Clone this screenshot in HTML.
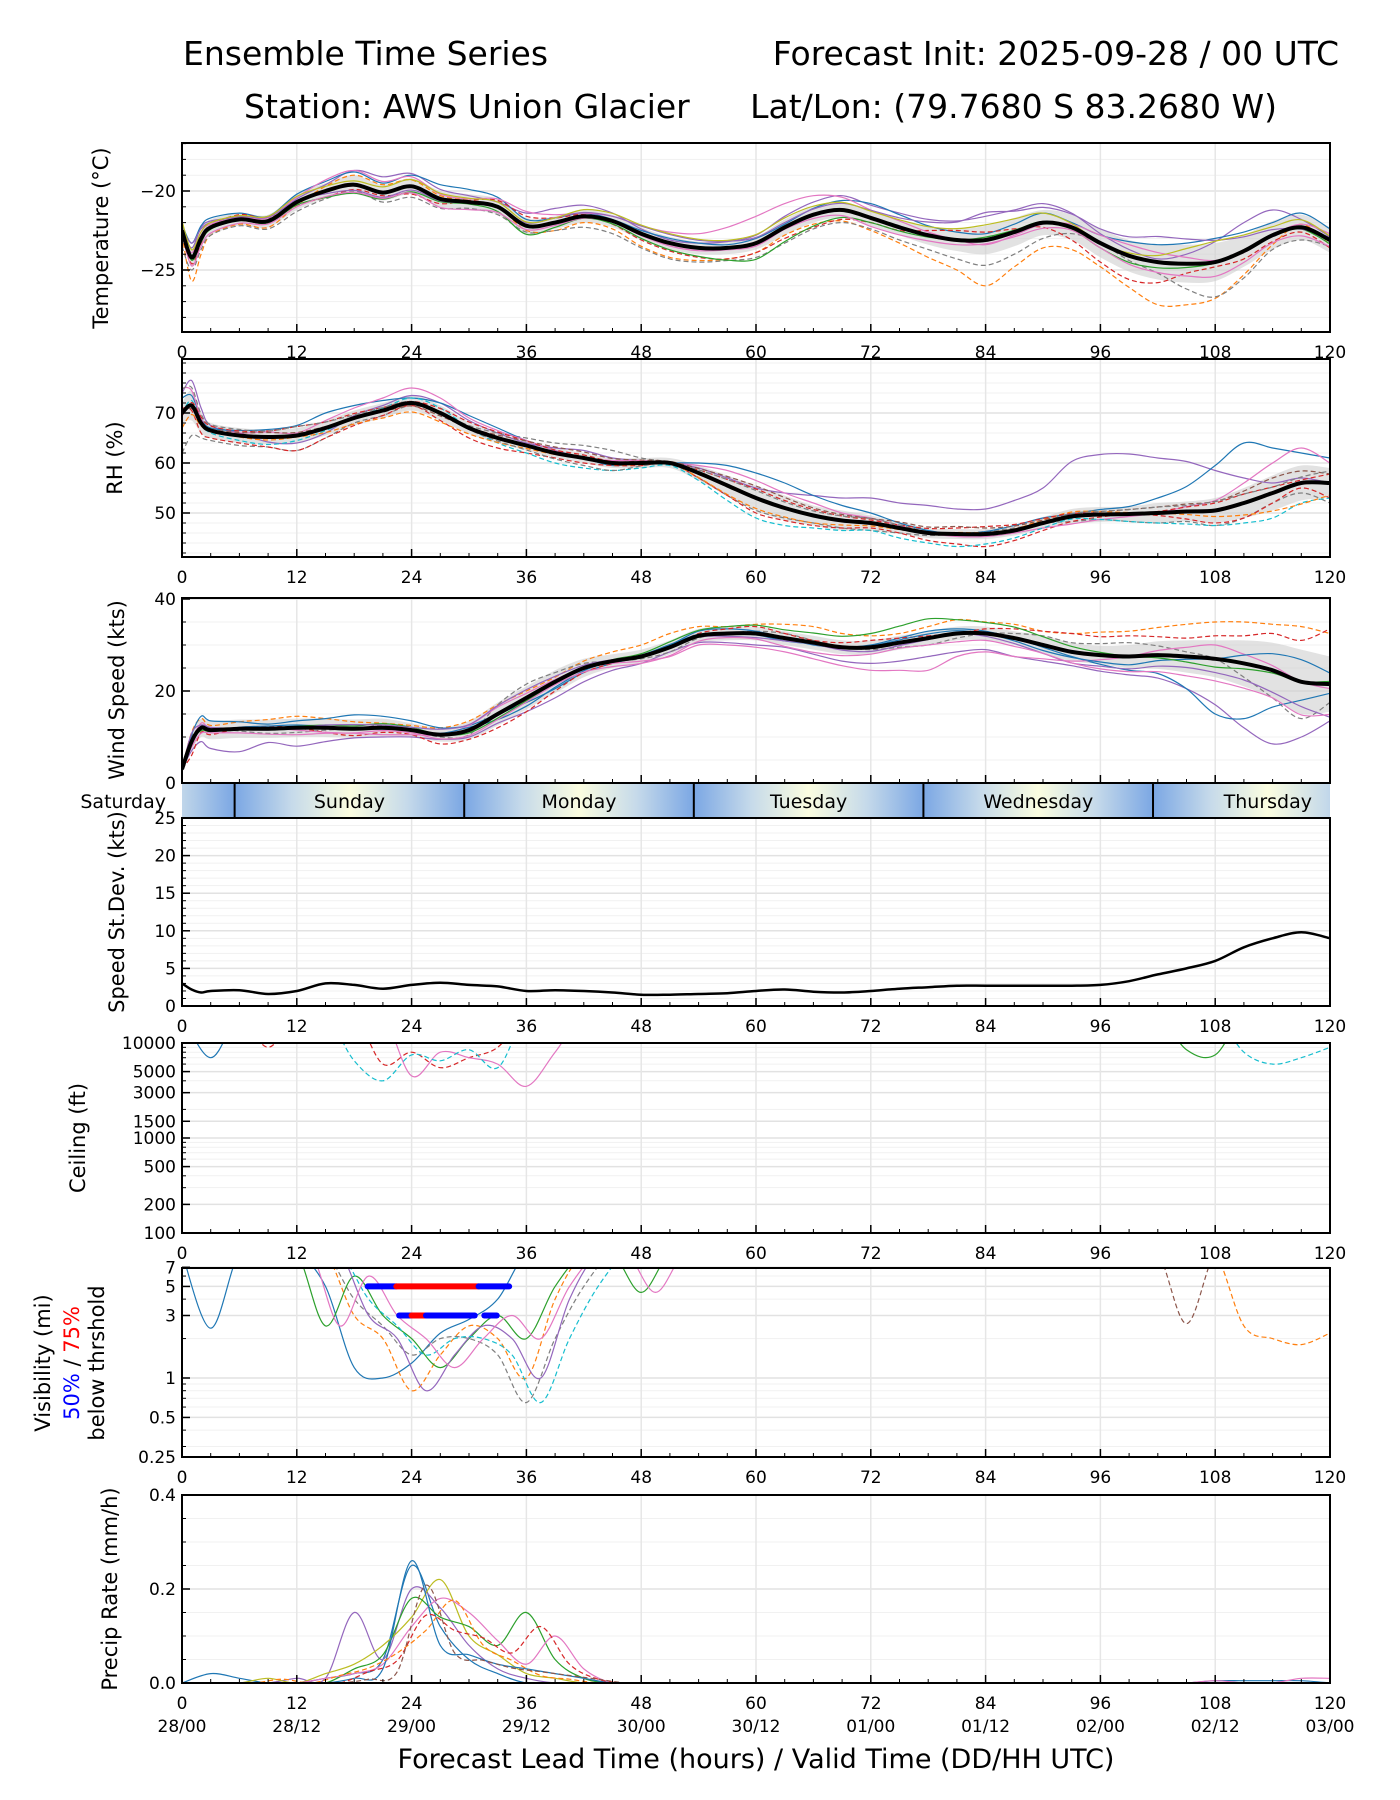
<!DOCTYPE html>
<html><head><meta charset="utf-8"><title>Ensemble Time Series</title>
<style>
html,body{margin:0;padding:0;background:#fff;}
svg{display:block;font-family:"DejaVu Sans","Liberation Sans",sans-serif;}
</style></head>
<body>
<svg id="chart" width="1400" height="1800" viewBox="0 0 1400 1800" xmlns="http://www.w3.org/2000/svg">
<defs>
<linearGradient id="dayGrad" x1="0" x2="1" y1="0" y2="0">
<stop offset="0" stop-color="#7ba7e4"/><stop offset="0.25" stop-color="#c6daea"/>
<stop offset="0.5" stop-color="#fbfde0"/><stop offset="0.75" stop-color="#c6daea"/>
<stop offset="1" stop-color="#7ba7e4"/></linearGradient>
</defs>
<text x="183" y="65" font-size="33">Ensemble Time Series</text>
<text x="1339" y="65" font-size="33" text-anchor="end">Forecast Init: 2025-09-28 / 00 UTC</text>
<text x="244" y="118" font-size="33">Station: AWS Union Glacier</text>
<text x="1277" y="118" font-size="33" text-anchor="end">Lat/Lon: (79.7680 S 83.2680 W)</text>
<g id="layer"></g>
</svg>
<script>
// ---------- data ----------
const T = [0,1,2,3,6,9,12,15,18,21,24,27,30,33,36,39,42,45,48,51,54,57,60,63,66,69,72,75,78,81,84,87,90,93,96,99,102,105,108,111,114,117,120];
const tempMean = [-22.5,-24.2,-23.0,-22.3,-21.8,-21.9,-20.7,-20.0,-19.6,-20.1,-19.7,-20.5,-20.7,-21.0,-22.2,-22.0,-21.6,-21.9,-22.7,-23.3,-23.6,-23.6,-23.3,-22.3,-21.5,-21.2,-21.7,-22.3,-22.8,-23.1,-23.1,-22.6,-22.0,-22.3,-23.3,-24.1,-24.5,-24.6,-24.5,-23.8,-22.8,-22.3,-23.1];
const tempSpread = [0.3,0.6,0.5,0.5,0.4,0.4,0.5,0.5,0.6,0.5,0.5,0.5,0.5,0.5,0.5,0.4,0.4,0.4,0.4,0.4,0.4,0.4,0.4,0.5,0.5,0.5,0.5,0.5,0.6,0.7,0.9,0.9,0.8,0.8,0.9,1.0,1.1,1.2,1.2,1.0,0.9,0.8,0.8];
const tempDev1 = [-.3,-1.5,-1.0,-.5,-.3,-.4,-.2,.3,.6,.5,.4,.2,.1,.0,-.3,-.5,-.4,-.5,-.8,-.9,-.8,-.7,-.6,-.5,-.6,-.7,-.8,-1.0,-1.4,-1.9,-2.9,-2.2,-1.6,-1.4,-1.5,-2.0,-2.7,-2.6,-2.3,-1.5,-.6,.2,-.3];
const tempDev2 = [.2,.6,.7,.4,.1,.0,.2,.4,.9,1.0,.8,.6,.4,.3,.8,.9,.7,.5,.3,.2,.3,.4,.5,.7,.8,.9,.8,.9,1.0,1.2,1.5,1.4,1.2,.9,.6,.4,.2,.6,1.3,1.8,1.6,.5,.2];
const tempDev3 = [-1.0,-.8,-.7,-.5,-.4,-.5,-.6,-.5,-.4,-.6,-.7,-.6,-.4,-.5,-.4,-.5,-.7,-.8,-.9,-1.0,-.9,-.8,-.9,-1.0,-.9,-.8,-.7,-.8,-.9,-1.2,-1.6,-1.4,-1.0,-.4,.0,-.3,-.7,-1.6,-2.2,-1.7,-.9,-.8,-.4];
const tempDev4 = [.4,.9,.8,.6,.4,.3,.5,.6,.8,.6,.7,.9,.8,.6,.4,.3,.2,.1,.2,.3,.3,.2,.3,.2,.4,.6,.9,.8,.6,.5,.4,.5,.6,.3,.5,.9,1.1,1.3,1.5,1.2,.8,.9,.7];
const tempDev5 = [.0,-.4,-.3,.1,.3,.2,-.2,-.4,-.3,-.2,-.5,-.3,.1,.4,.6,.3,.1,-.2,-.4,-.5,-.6,-.7,-.6,-.7,-.8,-.6,-.3,-.2,.3,.6,.5,.2,-.3,-.8,-1.2,-1.5,-1.3,-.6,-.3,-.5,-.4,-.3,-.5];
const tempDev6 = [.1,.3,.4,.2,.1,.2,.3,.7,.9,.7,.6,.3,.2,.5,.9,.5,.2,.3,.5,.7,.9,1.3,1.7,1.5,1.2,.8,.5,.4,.2,.0,-.3,-.2,-.1,.2,.5,.7,.6,.4,.1,-.1,.0,.2,.4];

const rhMean = [70,71.5,68,66.5,65.5,65.2,65.5,67,69,70.5,72,70,67,65,63.5,62,61,60,60,60,58,55.5,53,51,49.5,48.5,48,47,46,45.8,45.8,46.5,48,49.3,49.7,49.8,50,50.3,50.5,52,54,56,56];
const rhSpread = [2,3,2,1.5,1.5,1.5,1.5,1.5,1.5,1.5,1.5,1.5,1.2,1,1,1,1,1,1,1,1.5,2,2.5,2.5,2,2,1.5,1.2,1,1,1,1,1.2,1.5,1.5,1.5,2,2,2.5,3,3.5,3.5,3];
const rhDev1 = [4,5,3,1,.5,-1,-1.5,-1,.5,1,1.5,2,1.5,1,.5,1,1.5,1,.5,0,1,1.5,2,3,4,4.5,5,5,5.5,5,5,6,7,11,12,12,11,10,8,5,2,1,0];
const rhDev2 = [-8,-6,-3,-2,-2,-2,-3,-2,-1,-1,-.5,0,.5,1,1.5,2,2.5,2.5,1,0,-1,-2,-2.5,-2,-1.5,-1.5,-1.5,-1,-.5,0,.5,.5,0,-1,-1,-1.5,-2,-2,-3,-3,-2,-2,-4];
const rhDev3 = [3,2,1,.5,1,1.5,2,3,2.5,2,1,2,2.5,2,1,.5,0,-.5,0,0,2,4,5,5,4,3,2,1,.5,0,.5,1,1,.5,1,1.5,3,5,9,12,9,6,5];
const rhDev4 = [1,-1,-2,-1.5,-1.5,-2,-3,-2,-1.5,-1,-.5,-1.5,-2,-2,-1.5,-1,-1,-.5,-.5,0,-1,-2,-3,-2.5,-2,-1.5,-1,-1,-1.5,-2,-2.5,-2,-1.5,-1,-.5,0,-.5,-1.5,-2.5,-3,-2,-1,-3];
const rhDev5 = [5,3,1,0,.5,1,.5,1.5,2,2.5,3,3,2,1.5,1,.5,0,.5,.5,0,1.5,3,3.5,3,2.5,1.5,1,.5,0,-.5,-.5,-.5,-1,-1.5,-1,-.5,0,1,2,4,6,7,4];
const rhDev6 = [0,1,0,-.5,-1,-1.5,-1,-.5,0,.5,1,1,0,-1,-1.5,-2,-2,-1.5,-1,-.5,-1.5,-3,-4,-3.5,-2.5,-2,-1.5,-2,-2,-2.5,-2,-1.5,-1,-.5,-1,-1.5,-2,-2.5,-3,-4,-5,-4,-3];

const windMean = [3,9,12,11.5,11.8,11.8,12,12,11.8,12,11.5,10.5,11.5,15,18.5,22,25,26.5,27.5,29.5,32,32.5,32.5,31.5,30.5,29.5,29.5,30.5,31.5,32.5,32.5,31.5,30,28.5,27.8,27.5,27.8,27.5,27,26,24.5,22,21.5];
const windSpread = [1,2,2,2,2,2,2,2,2,2,1.5,1.5,2,2.5,2.5,2.5,2,1.5,1.5,1.5,1.5,1.5,1.5,1.5,1.5,1.5,1.5,1.5,1.5,1.5,1.5,1.5,2,2,2,2.5,3,3.5,4,5,6,7,6];
const windDev1 = [0,2,2,1,1.5,2,2.5,2,1.5,1,1,1.5,2,2,1.5,1,1.5,2,2.5,3,2,1.5,2,3,3.5,3,2.5,2,2.5,3,2.5,3,3,4,5,5.5,6,7,8,9,10,12,11];
const windDev2 = [0,-2,-3,-4,-5,-3,-4,-3,-2,-2,-1.5,-1,-1.5,-2,-3,-3.5,-3,-2,-1.5,-1,-1.5,-2,-2.5,-2,-2.5,-3,-3.5,-4,-4,-4,-3.5,-4,-3.5,-3,-3.5,-4,-5,-7,-10,-14,-16,-12,-8];
const windDev3 = [0,1,0,.5,-.5,-1,-1,-.5,0,.5,0,-.5,-1,2,3,2,1,0,-.5,-1,-.5,0,.5,1,.5,0,-.5,-1,-1.5,-1,0,1,2,2,2.5,3,2,1,0,-3,-6,-8,-4];
const windDev4 = [0,1.5,2.5,2,1.5,1,1.5,2,3,2.5,2,1.5,1,0,-1,-1.5,-1,-.5,0,.5,1,1,.5,0,-.5,0,.5,1,1.5,1,.5,0,-.5,-1,-2,-3,-4,-7,-12,-12,-8,-4,-2];
const windDev5 = [0,-3,-1,-1,0,.5,0,-1,-1.5,-1,-1,-2,-2,-3,-3,-2,-1,-.5,0,0,.5,1,1.5,1,.5,1,1.5,1,.5,0,1,2,3,4,4,4.5,4,4,5,6,8,9,12];
const windDev6 = [0,0,1,.5,0,0,-.5,-1,-1,-1.5,-1,0,1,1.5,1,.5,0,-.5,-1,-2,-2,-2.5,-3,-3,-3.5,-4,-5,-6,-7,-5,-4,-4,-3,-2,-1,0,1,2,3,2,1,0,-1];

const speedStd = [3,2.2,1.8,2.0,2.1,1.6,2.0,3.0,2.8,2.3,2.8,3.1,2.8,2.6,2.0,2.1,2.0,1.8,1.5,1.5,1.6,1.7,2.0,2.2,1.9,1.8,2.0,2.3,2.5,2.7,2.7,2.7,2.7,2.7,2.8,3.3,4.2,5.0,6.0,7.8,9.0,9.8,9.0];

const T3 = [0,3,6,9,12,15,18,21,24,27,30,33,36,39,42,45,48,51,54,57,60,63,66,69,72,75,78,81,84,87,90,93,96,99,102,105,108,111,114,117,120];
const ceil1 = [20000,7000,20000,20000,20000,20000,20000,20000,20000,20000,20000,20000,20000,20000,20000,20000,20000,20000,20000,20000,20000,20000,20000,20000,20000,20000,20000,20000,20000,20000,20000,20000,20000,20000,20000,20000,20000,20000,20000,20000,20000];
const ceil2 = [20000,20000,20000,9000,20000,20000,20000,6000,8000,5500,7000,9000,20000,20000,20000,20000,20000,20000,20000,20000,20000,20000,20000,20000,20000,20000,20000,20000,20000,20000,20000,20000,20000,20000,20000,20000,20000,20000,20000,20000,20000];
const ceil3 = [20000,20000,20000,20000,20000,20000,20000,20000,4500,8000,7000,6000,3500,8000,20000,20000,20000,20000,20000,20000,20000,20000,20000,20000,20000,20000,20000,20000,20000,20000,20000,20000,20000,20000,20000,20000,20000,20000,20000,20000,20000];
const ceil4 = [20000,20000,20000,20000,20000,20000,6500,4000,7500,6500,8500,5500,20000,20000,20000,20000,20000,20000,20000,20000,20000,20000,20000,20000,20000,20000,20000,20000,20000,20000,20000,20000,20000,20000,20000,20000,20000,8000,6000,7000,9000];
const ceil5 = [20000,20000,20000,20000,20000,20000,20000,20000,20000,20000,20000,20000,20000,20000,20000,20000,20000,20000,20000,20000,20000,20000,20000,20000,20000,20000,20000,20000,20000,20000,20000,20000,20000,20000,20000,8500,7500,20000,20000,20000,20000];

const vis1 = [9,2.4,9,9,9,5,1.2,1,1.3,2.2,2.8,4,9,9,9,9,9,9,9,9,9,9,9,9,9,9,9,9,9,9,9,9,9,9,9,9,9,9,9,9,9];
const vis2 = [9,9,9,9,9,9,3,2,0.8,1.5,2.5,2,1,4,9,9,9,9,9,9,9,9,9,9,9,9,9,9,9,9,9,9,9,9,9,9,9,9,9,9,9];
const vis3 = [9,9,9,9,9,9,4,2.5,1.5,2,2,1.5,0.65,2,5,9,9,9,9,9,9,9,9,9,9,9,9,9,9,9,9,9,9,9,9,9,9,9,9,9,9];
const vis4 = [9,9,9,9,9,2.5,6,3,2,1.2,2,3,2,5,9,9,4.5,9,9,9,9,9,9,9,9,9,9,9,9,9,9,9,9,9,9,9,9,9,9,9,9];
const vis5 = [9,9,9,9,9,9,9,9,9,9,9,9,9,9,9,9,9,9,9,9,9,9,9,9,9,9,9,9,9,9,9,9,9,9,9,9,9,2.5,2.0,1.8,2.2];
const vis6 = [9,9,9,9,9,9,9,9,9,9,9,9,9,9,9,9,9,9,9,9,9,9,9,9,9,9,9,9,9,9,9,9,9,9,9,2.6,9,9,9,9,9];
const visBars = [[5,19.4,22.4,'blue'],[5,22.4,31,'red'],[5,31,34.2,'blue'],[3,22.7,24,'blue'],[3,24,25.5,'red'],[3,25.5,30.6,'blue'],[3,31.6,32.9,'blue']];

const precip1 = [0,.02,.01,0,0,.01,.02,.05,.25,.12,.05,.02,0,0,0,0,0,0,0,0,0,0,0,0,0,0,0,0,0,0,0,0,0,0,0,0,.005,.005,.005,.005,0];
const precip2 = [0,0,0,0,.01,.01,.15,.05,.20,.16,.08,.03,.01,0,0,0,0,0,0,0,0,0,0,0,0,0,0,0,0,0,0,0,0,0,0,0,0,0,0,0,0];
const precip3 = [0,0,0,.01,0,.02,.04,.08,.14,.22,.10,.06,.02,.01,0,0,0,0,0,0,0,0,0,0,0,0,0,0,0,0,0,0,0,0,0,0,0,0,0,0,0];
const precip4 = [0,0,0,0,0,0,.03,.06,.18,.14,.12,.08,.15,.05,.01,0,0,0,0,0,0,0,0,0,0,0,0,0,0,0,0,0,0,0,0,0,0,0,0,0,0];
const precip5 = [0,0,0,0,0,.01,.02,.04,.12,.18,.15,.09,.04,.10,.03,0,0,0,0,0,0,0,0,0,0,0,0,0,0,0,0,0,0,0,0,0,.005,0,0,.01,.01];
const precip6 = [0,0,0,0,0,0,.01,.03,.26,.08,.06,.04,.03,.02,.01,0,0,0,0,0,0,0,0,0,0,0,0,0,0,0,0,0,0,0,0,0,0,0,0,0,0];

const xTicks = [0,12,24,36,48,60,72,84,96,108,120];
const dateLabels = ['28/00','28/12','29/00','29/12','30/00','30/12','01/00','01/12','02/00','02/12','03/00'];
const dayNames = ['Saturday','Sunday','Monday','Tuesday','Wednesday','Thursday'];
const dayBoundaries = [5.5,29.5,53.5,77.5,101.5];

// ---------- drawing ----------
const NS='http://www.w3.org/2000/svg';
const layer=document.getElementById('layer');
const COLORS=['#1f77b4','#ff7f0e','#2ca02c','#d62728','#9467bd','#8c564b','#e377c2','#7f7f7f','#bcbd22','#17becf'];
const X0=182,X1=1330;
const X=h=>X0+h*(X1-X0)/120;
function mk(tag,attrs,parent){const e=document.createElementNS(NS,tag);for(const k in attrs)e.setAttribute(k,attrs[k]);(parent||layer).appendChild(e);return e;}
function smooth(pts){
  let d='M'+pts[0][0].toFixed(1)+','+pts[0][1].toFixed(1);
  for(let i=0;i<pts.length-1;i++){
    const p0=pts[i-1]||pts[i],p1=pts[i],p2=pts[i+1],p3=pts[i+2]||p2;
    const c1=[p1[0]+(p2[0]-p0[0])/6,p1[1]+(p2[1]-p0[1])/6];
    const c2=[p2[0]-(p3[0]-p1[0])/6,p2[1]-(p3[1]-p1[1])/6];
    d+=' C'+c1[0].toFixed(1)+','+c1[1].toFixed(1)+' '+c2[0].toFixed(1)+','+c2[1].toFixed(1)+' '+p2[0].toFixed(1)+','+p2[1].toFixed(1);
  }
  return d;
}
function makePanel(id,top,bot,Y,majors,minors,opts){
  const g=mk('g',{});
  
  
  const cp=mk('clipPath',{id:'clip-'+id},g);
  mk('rect',{x:X0,y:top,width:X1-X0,height:bot-top},cp);
  minors.forEach(v=>{const y=Y(v);if(y<top-0.5||y>bot+0.5)return;mk('line',{x1:X0,x2:X1,y1:y,y2:y,stroke:'#f1f1f1','stroke-width':1},g);});
  majors.forEach(m=>{const y=Y(m[0]);mk('line',{x1:X0,x2:X1,y1:y,y2:y,stroke:'#e2e2e2','stroke-width':1.5},g);});
  xTicks.forEach(h=>{mk('line',{x1:X(h),x2:X(h),y1:top,y2:bot,stroke:'#e6e6e6','stroke-width':1.5},g);});
  const plot=mk('g',{'clip-path':'url(#clip-'+id+')'},g);
  const ax=mk('g',{},g);
  for(let h=0;h<=120;h+=3){const maj=h%12===0;mk('line',{x1:X(h),x2:X(h),y1:bot,y2:bot-(maj?8:4),stroke:'#000','stroke-width':maj?1.5:1},ax);}
  majors.forEach(m=>{const y=Y(m[0]);mk('line',{x1:X0,x2:X0+8,y1:y,y2:y,stroke:'#000','stroke-width':1.5},ax);
    const t=mk('text',{x:X0-6,y:y+6,'font-size':17,'text-anchor':'end'},ax);t.textContent=m[1];
    
    });
  minors.forEach(v=>{const y=Y(v);if(y<top-0.5||y>bot+0.5)return;mk('line',{x1:X0,x2:X0+4,y1:y,y2:y,stroke:'#000','stroke-width':1},ax);});
  mk('rect',{x:X0,y:top,width:X1-X0,height:bot-top,fill:'none',stroke:'#000','stroke-width':2},ax);
  if(opts.xlabels){xTicks.forEach(h=>{const t=mk('text',{x:X(h),y:bot+26,'font-size':17,'text-anchor':'middle'},ax);t.textContent=h;
    
    });}
  return plot;
}
function member(plot,xs,ys,Y,i){
  const pts=xs.map((h,k)=>[X(h),Y(ys[k])]);
  const p=mk('path',{d:smooth(pts),fill:'none',stroke:COLORS[i%10],'stroke-width':1.2,'stroke-dasharray':i%2?'5,3':'none'},plot);
  
  
}
function band(plot,mean,spread,Y){
  const up=T.map((h,k)=>[X(h),Y(mean[k]+spread[k])]);
  const dn=T.map((h,k)=>[X(h),Y(mean[k]-spread[k])]).reverse();
  const d=smooth(up)+' L'+smooth(dn).slice(1)+' Z';
  const p=mk('path',{d:d,fill:'#cfcfcf','fill-opacity':0.6,stroke:'none'},plot);
  
  
}
function meanLine(plot,ys,Y,w){
  const p=mk('path',{d:smooth(T.map((h,k)=>[X(h),Y(ys[k])])),fill:'none',stroke:'#000','stroke-width':w||4,'stroke-linejoin':'round'},plot);
  
  
}
function ylabel(id,text,x,cy,color){
  const t=mk('text',{x:x,y:cy,'font-size':21,'text-anchor':'middle',transform:'rotate(-90 '+x+' '+cy+')',fill:color||'#000'});
  t.textContent=text;
  
  
  return t;
}
const range=(a,b,s)=>{const r=[];for(let v=a;v<=b+1e-9;v+=s)r.push(+v.toFixed(4));return r;};

// Temperature
const Yt=v=>191+(-20-v)*15.8;
const pT=makePanel('temperature',143,332,Yt,[[-20,'\u221220'],[-25,'\u221225']],range(-28,-17,1),{xlabels:true});
band(pT,tempMean,tempSpread,Yt);
[tempDev1,tempDev2,tempDev3,tempDev4,tempDev5,tempDev6].forEach((d,i)=>member(pT,T,tempMean.map((m,k)=>m+d[k]),Yt,i*3+1));
[tempDev6,tempDev1,tempDev4,tempDev3].forEach((d,i)=>member(pT,T,tempMean.map((m,k)=>m-0.6*d[k]),Yt,i*2+2));
meanLine(pT,tempMean,Yt);
ylabel('temperature-axis-title','Temperature (\u00b0C)',108,238);

// RH
const Yr=v=>463+(60-v)*5.0;
const pR=makePanel('rh',359,557,Yr,[[50,'50'],[60,'60'],[70,'70']],range(42,80,2),{xlabels:true});
band(pR,rhMean,rhSpread,Yr);
[rhDev1,rhDev2,rhDev3,rhDev4,rhDev5,rhDev6].forEach((d,i)=>member(pR,T,rhMean.map((m,k)=>m+d[k]),Yr,i*3+4));
[rhDev5,rhDev4,rhDev6,rhDev2].forEach((d,i)=>member(pR,T,rhMean.map((m,k)=>m-0.6*d[k]),Yr,i*2+1));
meanLine(pR,rhMean,Yr);
ylabel('rh-axis-title','RH (%)',122,458);

// Wind
const Yw=v=>783-v*4.6;
const pW=makePanel('wind-speed',598,783,Yw,[[0,'0'],[20,'20'],[40,'40']],range(0,40,5),{xlabels:false});
band(pW,windMean,windSpread,Yw);
[windDev1,windDev2,windDev3,windDev4,windDev5,windDev6].forEach((d,i)=>member(pW,T,windMean.map((m,k)=>Math.max(0,m+d[k])),Yw,i*3+1));
[windDev3,windDev6,windDev5,windDev1].forEach((d,i)=>member(pW,T,windMean.map((m,k)=>Math.max(0,m-0.6*d[k])),Yw,i*2));
meanLine(pW,windMean,Yw);
ylabel('wind-speed-axis-title','Wind Speed (kts)',124,690);

// Day band
(function(){
  const g=mk('g',{});
  
  
  const bounds=[-18.5].concat(dayBoundaries).concat([125.5]);
  const cp=mk('clipPath',{id:'clip-day'},g);mk('rect',{x:X0,y:784,width:X1-X0,height:34},cp);
  const inner=mk('g',{'clip-path':'url(#clip-day)'},g);
  for(let i=0;i<bounds.length-1;i++){mk('rect',{x:X(bounds[i]),y:784,width:X(bounds[i+1])-X(bounds[i]),height:34,fill:'url(#dayGrad)'},inner);}
  dayBoundaries.forEach(h=>mk('line',{x1:X(h),x2:X(h),y1:784,y2:818,stroke:'#000','stroke-width':2},g));
  dayNames.forEach((n,i)=>{
    let x,anchor='middle';
    if(i===0){x=166;anchor='end';}
    else if(i===dayNames.length-1){x=X(113.5);}
    else x=X((bounds[i]+bounds[i+1])/2);
    const t=mk('text',{x:x,y:808,'font-size':19,'text-anchor':anchor},g);t.textContent=n;
    
    
  });
})();

// Speed std dev
const Ys=v=>1006-v*7.52;
const pS=makePanel('speed-stdev',818,1006,Ys,[[0,'0'],[5,'5'],[10,'10'],[15,'15'],[20,'20'],[25,'25']],range(0,25,1),{xlabels:true});
meanLine(pS,speedStd,Ys,2.5);
ylabel('speed-stdev-axis-title','Speed St.Dev. (kts)',124,912);

// Ceiling (log)
const Yc=v=>1043+(4-Math.log10(v))*95;
const ceilMinor=[200,300,400,500,600,700,800,900,2000,3000,4000,5000,6000,7000,8000,9000];
const pC=makePanel('ceiling',1043,1233,Yc,[[100,'100'],[200,'200'],[500,'500'],[1000,'1000'],[1500,'1500'],[3000,'3000'],[5000,'5000'],[10000,'10000']],ceilMinor,{xlabels:true});
[ceil1,ceil2,ceil3,ceil4,ceil5].forEach((c,i)=>member(pC,T3,c,Yc,i*2+i));
ylabel('ceiling-axis-title','Ceiling (ft)',85,1138);

// Visibility (log)
const Yv=v=>1378-Math.log10(v)*131;
const pV=makePanel('visibility',1268,1457,Yv,[[0.25,'0.25'],[0.5,'0.5'],[1,'1'],[3,'3'],[5,'5'],[7,'7']],[0.3,0.4,0.6,0.7,0.8,0.9,2,4,6],{xlabels:true});
[vis1,vis2,vis3,vis4,vis5,vis6].forEach((v,i)=>member(pV,T3,v,Yv,[0,1,7,2,1,5][i]));
[vis2,vis3,vis4].forEach((v,i)=>member(pV,T3.map(h=>h+1.5),v,Yv,[4,9,6][i]));
visBars.forEach(b=>{const l=mk('line',{x1:X(b[1]),x2:X(b[2]),y1:Yv(b[0]),y2:Yv(b[0]),stroke:b[3],'stroke-width':6,'stroke-linecap':'round'},pV);
  
  });
(function(){
  ylabel('visibility-axis-title','Visibility (mi)',50,1363);
  const t2=mk('text',{x:79,y:1363,'font-size':21,'text-anchor':'middle',transform:'rotate(-90 79 1363)'});
  
  
  const a=mk('tspan',{fill:'blue'},t2);a.textContent='50%';
  const b=mk('tspan',{fill:'#000'},t2);b.textContent=' / ';
  const c=mk('tspan',{fill:'red'},t2);c.textContent='75%';
  ylabel('visibility-axis-subtitle','below thrshold',104,1363);
})();

// Precip
const Yp=v=>1683-v*470;
const pP=makePanel('precip',1495,1683,Yp,[[0,'0.0'],[0.2,'0.2'],[0.4,'0.4']],range(0,0.4,0.05),{xlabels:true});
[precip1,precip2,precip3,precip4,precip5,precip6].forEach((p,i)=>member(pP,T3,p,Yp,i*3+i));
[precip3,precip4,precip6].forEach((p,i)=>member(pP,T3.map(h=>h+1.5),p.map(v=>v*0.8),Yp,i*2+1));
ylabel('precip-axis-title','Precip Rate (mm/h)',117,1589);
dateLabels.forEach((s,i)=>{const t=mk('text',{x:X(xTicks[i]),y:1732,'font-size':17,'text-anchor':'middle'});t.textContent=s;
  
  });
(function(){const t=mk('text',{x:756,y:1768,'font-size':27,'text-anchor':'middle'});t.textContent='Forecast Lead Time (hours) / Valid Time (DD/HH UTC)';
  
  })();
</script>
</body></html>
